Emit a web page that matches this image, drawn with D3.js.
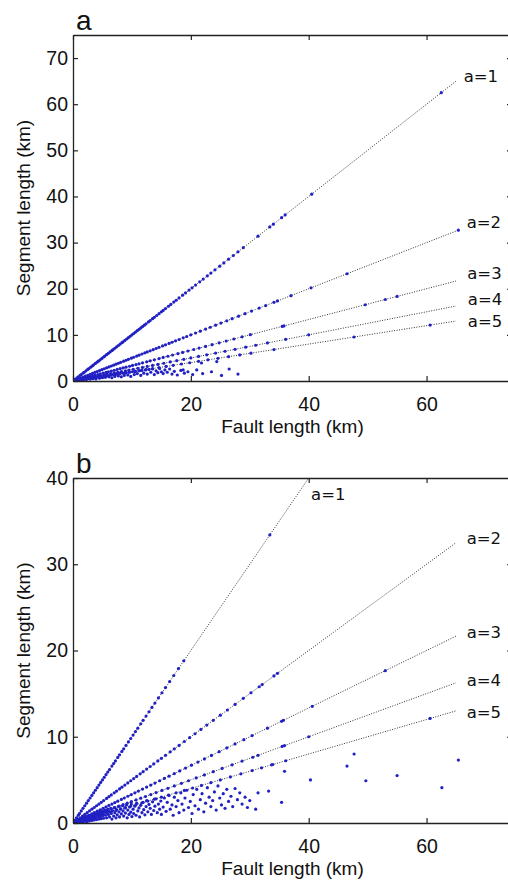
<!DOCTYPE html>
<html>
<head>
<meta charset="utf-8">
<script src="https://cdn.jsdelivr.net/npm/d3@7"></script>
<style>
  body { margin: 0; background: #fff; }
  svg { display: block; }
  .tick text { font-family: "Liberation Sans", Arial, sans-serif; font-size: 19.5px; fill: #111; }
  .axis-title { font-family: "Liberation Sans", Arial, sans-serif; font-size: 19px; fill: #111; }
  .panel-letter { font-family: "Liberation Sans", Arial, sans-serif; font-size: 28px; fill: #111; }
  .line-label { font-family: "DejaVu Sans", sans-serif; font-size: 16.5px; fill: #111; }
</style>
</head>
<body>
<div id="vis"></div>
<script>

const FRAME_HEIGHT = 884;
const FRAME_WIDTH = 508;

// ---- data ----
const A_VALUES = [1, 2, 3, 4, 5];
const LINE_END = 65;          // fault length where the a-lines stop (km)
const X_MAX = 74.5;
const X_TICKS = [0, 20, 40, 60];
const Y_TICKS_A = [0, 10, 20, 30, 40, 50, 60, 70];
const Y_TICKS_B = [0, 10, 20, 30, 40];

// line labels, in km
const LABEL_X_A = [66.3, 66.8, 66.9, 67.0, 67.0];
const LABEL_Y_A = [66.0, 34.4, 23.3, 17.7, 13.0];
const LABEL_X_B = [40.4, 66.8, 66.8, 66.8, 66.8];
const LABEL_Y_B = [38.1, 33.0, 22.1, 16.5, 12.8];

// panel a : fault lengths (km) of faults split in a equal segments
const FAULTS_A1 = [0.4,0.7,0.9,1.2,1.4,1.7,1.9,2.2,2.5,2.7,3.0,3.3,3.5,3.8,4.1,4.3,4.6,4.9,5.2,5.4,5.7,6.0,6.3,6.6,6.8,7.1,7.4,7.7,8.0,8.3,8.5,8.8,9.1,9.4,9.7,10.0,10.3,10.6,10.9,11.2,11.5,11.8,12.1,12.4,12.8,13.1,13.5,13.8,14.2,14.6,15.0,15.3,15.7,16.2,16.6,17.1,17.5,18.0,18.6,19.1,19.7,20.2,20.8,21.5,22.1,22.8,23.4,24.1,24.9,25.6,26.4,27.2,28.0,28.9,31.4,33.4,34.0,35.4,36.0,40.5,62.5];
const FAULTS_A2 = [0.5,0.9,1.3,1.7,2.1,2.5,2.9,3.3,3.7,4.1,4.5,4.9,5.3,5.7,6.1,6.5,6.9,7.3,7.7,8.1,8.6,9.0,9.4,9.9,10.3,10.8,11.2,11.7,12.2,12.6,13.1,13.6,14.1,14.6,15.2,15.7,16.3,16.8,17.4,18.0,18.7,19.3,20.0,20.8,21.6,22.5,23.3,24.2,25.1,26.1,27.0,28.1,29.2,30.3,31.6,32.7,34.1,34.7,37.0,40.4,46.5,65.4];
const FAULTS_A3 = [0.6,1.0,1.5,1.9,2.4,2.8,3.3,3.7,4.2,4.6,5.1,5.6,6.0,6.5,7.0,7.5,8.0,8.5,9.0,9.6,10.1,10.7,11.2,11.8,12.5,13.1,13.8,14.6,15.3,16.1,16.9,17.8,18.6,19.5,20.5,21.4,22.5,23.6,24.8,26.0,27.3,28.7,30.1,35.5,35.8,49.6,53.0,55.0];
const FAULTS_A4 = [0.7,1.2,1.7,2.2,2.7,3.2,3.7,4.2,4.7,5.3,5.8,6.4,7.0,7.6,8.2,8.9,9.5,10.2,11.0,11.8,12.6,13.5,14.4,15.4,16.5,17.6,18.8,20.0,21.3,22.7,24.2,25.8,27.5,29.3,31.0,33.0,36.1,40.0];
const FAULTS_A5 = [0.8,1.4,2.0,2.6,3.2,3.8,4.4,5.1,5.8,6.5,7.2,8.0,8.8,9.6,10.5,11.4,12.4,13.5,14.6,15.8,17.0,18.4,19.8,21.3,22.9,24.6,26.4,28.3,30.2,34.1,47.7,60.6];
// panel a : other segments [fault length, segment length]
const SCATTER_A = [[1.2,0.2],[1.5,0.3],[1.8,0.25],[2.0,0.5],[2.3,0.35],[2.6,0.6],[2.9,0.4],[3.1,0.7],[3.4,0.5],[3.7,0.8],[3.9,0.45],[4.2,0.9],[4.5,0.6],[4.8,1.0],[5.0,0.7],[5.3,1.1],[5.5,0.8],[5.8,1.2],[6.1,0.9],[6.3,1.3],[6.6,0.7],[6.9,1.4],[7.1,1.0],[7.4,1.5],[7.7,1.1],[7.9,1.6],[8.2,0.9],[8.5,1.7],[8.7,1.2],[9.0,1.8],[9.3,1.3],[9.5,1.9],[9.8,1.0],[10.1,2.0],[10.4,1.4],[10.6,2.1],[10.9,1.6],[11.2,2.2],[11.5,1.2],[11.7,2.3],[12.0,1.7],[12.3,2.4],[12.6,1.5],[12.9,2.5],[13.2,1.9],[13.5,2.6],[13.8,1.4],[14.1,2.2],[14.4,1.8],[14.7,2.7],[15.0,2.0],[15.3,1.6],[15.6,2.4],[16.0,1.9],[16.4,2.6],[16.8,1.5],[17.2,2.1],[17.7,1.3],[18.3,2.3],[18.7,2.4],[18.9,1.7],[19.5,2.0],[20.3,1.4],[21.0,2.4],[21.8,3.9],[22.0,1.6],[23.5,2.0],[24.4,4.2],[25.2,1.2],[26.5,2.6],[28.0,1.5]];

// panel b
const FAULTS_B1 = [0.3,0.6,0.9,1.1,1.4,1.7,2.0,2.3,2.6,2.9,3.2,3.5,3.8,4.1,4.4,4.7,5.0,5.3,5.6,5.9,6.2,6.6,6.9,7.2,7.6,7.9,8.3,8.6,9.0,9.4,9.8,10.2,10.6,11.0,11.5,11.9,12.4,12.9,13.4,13.9,14.5,15.1,15.7,16.4,17.1,17.9,18.8,33.4];
const FAULTS_B2 = [0.4,0.8,1.2,1.6,2.0,2.4,2.8,3.2,3.6,4.0,4.4,4.8,5.2,5.7,6.1,6.5,7.0,7.4,7.9,8.3,8.8,9.3,9.8,10.3,10.8,11.4,11.9,12.5,13.1,13.7,14.4,15.0,15.7,16.5,17.2,18.0,18.9,19.8,20.7,21.7,22.7,23.8,25.0,26.2,27.5,28.9,30.2,31.6,32.1,34.1,34.7];
const FAULTS_B3 = [0.5,0.9,1.4,1.8,2.3,2.7,3.2,3.6,4.1,4.6,5.1,5.6,6.1,6.6,7.1,7.6,8.2,8.7,9.3,9.9,10.5,11.1,11.8,12.5,13.2,13.9,14.7,15.5,16.3,17.2,18.1,19.1,20.1,21.2,22.3,23.5,24.8,26.1,27.5,29.0,30.4,33.0,35.4,35.7,40.6,53.0];
const FAULTS_B4 = [0.6,1.1,1.6,2.1,2.6,3.1,3.6,4.2,4.7,5.3,5.9,6.5,7.1,7.8,8.5,9.2,9.9,10.7,11.5,12.3,13.2,14.1,15.1,16.1,17.2,18.4,19.6,20.9,22.3,23.8,25.3,27.0,28.7,30.5,31.4,35.5,35.9,40.0];
const FAULTS_B5 = [0.7,1.3,1.9,2.5,3.1,3.7,4.4,5.1,5.8,6.5,7.3,8.1,8.9,9.8,10.7,11.7,12.7,13.8,15.0,16.2,17.5,18.9,20.3,21.8,23.4,25.0,26.7,28.5,30.4,32.0,33.7,33.9,36.1,60.6];
const SCATTER_B = [[0.3,0.1],[0.5,0.2],[0.6,0.05],[0.8,0.3],[0.9,0.15],[1.0,0.4],[1.1,0.1],[1.2,0.25],[1.3,0.5],[1.4,0.2],[1.5,0.35],[1.6,0.1],[1.7,0.6],[1.8,0.3],[1.9,0.45],[2.0,0.2],[2.1,0.7],[2.2,0.35],[2.3,0.55],[2.4,0.15],[2.5,0.8],[2.6,0.4],[2.7,0.6],[2.8,0.25],[2.9,0.9],[3.0,0.5],[3.1,0.7],[3.2,0.3],[3.3,1.0],[3.4,0.55],[3.5,0.8],[3.6,0.35],[3.7,1.1],[3.8,0.6],[3.9,0.9],[4.0,0.4],[4.1,1.2],[4.2,0.7],[4.3,0.95],[4.4,0.45],[4.5,1.3],[4.6,0.75],[4.7,1.05],[4.8,0.5],[4.9,1.4],[5.0,0.85],
  [5.1,1.15],[5.2,0.55],[5.4,1.5],[5.5,0.9],[5.6,1.25],[5.7,0.6],[5.9,1.6],[6.0,1.0],[6.1,1.35],[6.2,0.7],[6.4,1.7],[6.5,1.1],[6.6,0.45],[6.7,1.45],[6.9,0.8],[7.0,1.8],[7.1,1.2],[7.3,0.6],[7.4,1.55],[7.5,0.95],[7.7,1.9],[7.8,1.3],[7.9,0.7],[8.1,1.65],[8.2,1.05],[8.4,2.0],[8.5,1.4],[8.6,0.8],[8.8,1.75],[8.9,1.15],[9.1,2.1],[9.2,0.6],[9.3,1.5],[9.5,1.0],[9.6,1.85],[9.8,1.25],[9.9,2.2],[10.0,0.75],
  [10.2,1.6],[10.3,1.1],[10.5,1.95],[10.7,0.9],[10.8,2.3],[11.0,1.4],[11.2,1.75],[11.3,0.7],[11.5,2.05],[11.7,1.2],[11.9,2.4],[12.0,1.55],[12.2,0.95],[12.4,1.9],[12.5,2.6],[12.7,1.3],[12.9,2.15],[13.1,1.7],[13.3,1.0],[13.5,2.45],[13.7,1.45],[13.9,1.95],[14.1,2.8],[14.3,1.2],[14.5,2.2],[14.7,1.6],[14.9,2.55],[15.0,1.0],
  [15.3,1.85],[15.5,2.9],[15.8,1.35],[16.0,2.4],[16.3,3.2],[16.5,1.6],[16.8,2.1],[17.0,0.9],[17.2,3.0],[17.5,1.9],[17.8,2.6],[18.0,1.2],[18.3,3.5],[18.5,2.2],[18.8,1.5],[19.0,2.9],[19.3,3.8],[19.6,1.8],[19.9,2.5],[20.2,1.1],[20.4,3.3],[20.7,2.0],[21.0,3.9],[21.3,1.6],[21.6,2.7],[21.9,3.4],[22.2,1.3],[22.5,2.3],[22.8,4.1],[23.1,3.0],[23.4,1.9],[23.7,2.6],[24.0,3.6],[24.3,1.5],[24.6,4.3],[24.9,2.9],[25.2,2.1],[25.5,3.4],[25.8,1.7],[26.1,3.9],[26.4,2.5],[26.8,3.1],[27.1,1.9],[27.5,4.0],[27.9,2.7],[28.3,3.5],[28.7,2.2],[29.2,3.0],[29.6,1.8],[30.0,2.6],
  [31.0,1.6],[31.4,3.5],[33.2,3.7],[35.4,2.4],[35.9,6.0],[40.3,5.0],[46.5,6.6],[47.7,8.0],[49.7,4.9],[55.0,5.5],[62.6,4.1],[65.4,7.3]];

// ---- layout ----
const MARGINS = {left: 73, right: -4};
const PANEL_A = {top: 35, bottom: 381};
const PANEL_B = {top: 478, bottom: 823};

const SVG = d3.select("#vis")
              .append("svg")
                .attr("width", FRAME_WIDTH)
                .attr("height", FRAME_HEIGHT);

const X_SCALE = d3.scaleLinear()
                  .domain([0, X_MAX])
                  .range([MARGINS.left, FRAME_WIDTH - MARGINS.right]);

function build_panel(id, box, yMax, yTicks, faults, scatter, labelX, labelY, letter) {

    const Y_SCALE = d3.scaleLinear()
                      .domain([0, yMax])
                      .range([box.bottom, box.top]);

    const G = SVG.append("g").attr("id", id);

    G.append("clipPath")
        .attr("id", id + "-clip")
      .append("rect")
        .attr("x", X_SCALE(0))
        .attr("y", box.top)
        .attr("width", X_SCALE(X_MAX) - X_SCALE(0))
        .attr("height", box.bottom - box.top);

    const PLOT = G.append("g").attr("clip-path", "url(#" + id + "-clip)");

    // a-lines
    PLOT.selectAll(".a-line")
        .data(A_VALUES)
        .enter()
        .append("line")
          .attr("x1", X_SCALE(0))
          .attr("y1", Y_SCALE(0))
          .attr("x2", X_SCALE(LINE_END))
          .attr("y2", (a) => Y_SCALE(LINE_END / a))
          .attr("stroke", "#333")
          .attr("stroke-width", 1)
          .attr("stroke-dasharray", "1,1.5");

    // points on the lines: segment length = fault length / a
    let points = [];
    faults.forEach((arr, i) => {
        arr.forEach((f) => { points.push([f, f / A_VALUES[i]]); });
    });
    points = points.concat(scatter);

    PLOT.selectAll(".pt")
        .data(points)
        .enter()
        .append("circle")
          .attr("cx", (d) => X_SCALE(d[0]))
          .attr("cy", (d) => Y_SCALE(d[1]))
          .attr("r", 1.6)
          .attr("fill", "#2020c4");

    // box with inward ticks
    const AXIS_STROKE = "#222";
    const bottom = G.append("g")
        .attr("transform", "translate(0," + box.bottom + ")")
        .call(d3.axisBottom(X_SCALE).tickValues(X_TICKS).tickSizeInner(-5).tickSizeOuter(0).tickPadding(16));
    const top = G.append("g")
        .attr("transform", "translate(0," + box.top + ")")
        .call(d3.axisTop(X_SCALE).tickValues(X_TICKS).tickSizeInner(-5).tickSizeOuter(0).tickFormat(""));
    const left = G.append("g")
        .attr("transform", "translate(" + X_SCALE(0) + ",0)")
        .call(d3.axisLeft(Y_SCALE).tickValues(yTicks).tickSizeInner(-5).tickSizeOuter(0).tickPadding(5));
    const right = G.append("g")
        .attr("transform", "translate(" + X_SCALE(X_MAX) + ",0)")
        .call(d3.axisRight(Y_SCALE).tickValues(yTicks).tickSizeInner(-5).tickSizeOuter(0).tickFormat(""));

    [bottom, top, left, right].forEach((ax) => {
        ax.attr("font-family", null).attr("font-size", null);
        ax.select(".domain").attr("stroke", AXIS_STROKE).attr("stroke-width", 1.3);
        ax.selectAll(".tick line").attr("stroke", AXIS_STROKE).attr("stroke-width", 1.2);
    });

    // line labels
    G.selectAll(".line-label")
        .data(A_VALUES)
        .enter()
        .append("text")
          .attr("class", "line-label")
          .attr("x", (a, i) => X_SCALE(labelX[i]))
          .attr("y", (a, i) => Y_SCALE(labelY[i]))
          .attr("dominant-baseline", "central")
          .text((a) => "a=" + a);

    // titles
    G.append("text")
        .attr("class", "axis-title")
        .attr("x", (X_SCALE(0) + X_SCALE(X_MAX)) / 2)
        .attr("y", box.bottom + 52)
        .attr("text-anchor", "middle")
        .text("Fault length (km)");

    G.append("text")
        .attr("class", "axis-title")
        .attr("transform", "translate(30," + ((box.top + box.bottom) / 2) + ") rotate(-90)")
        .attr("text-anchor", "middle")
        .text("Segment length (km)");

    G.append("text")
        .attr("class", "panel-letter")
        .attr("x", 76)
        .attr("y", box.top - 5)
        .text(letter);
}

build_panel("pa", PANEL_A, 75, Y_TICKS_A,
            [FAULTS_A1, FAULTS_A2, FAULTS_A3, FAULTS_A4, FAULTS_A5], SCATTER_A,
            LABEL_X_A, LABEL_Y_A, "a");

build_panel("pb", PANEL_B, 40, Y_TICKS_B,
            [FAULTS_B1, FAULTS_B2, FAULTS_B3, FAULTS_B4, FAULTS_B5], SCATTER_B,
            LABEL_X_B, LABEL_Y_B, "b");

</script>
</body>
</html>
